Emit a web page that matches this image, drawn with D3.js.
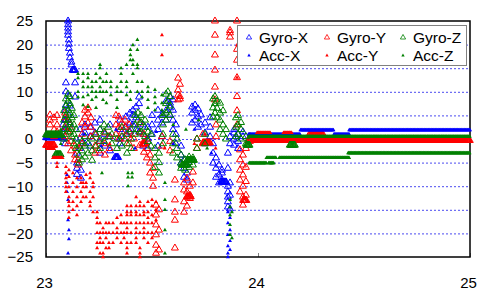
<!DOCTYPE html>
<html lang="en">
<head>
<meta charset="UTF-8">
<title>Gyro / Acc</title>
<script src="https://d3js.org/d3.v7.min.js"></script>
<style>
  body { margin: 0; background: #fff; }
  svg { display: block; font-family: "Liberation Sans", Arial, sans-serif; }
</style>
</head>
<body>
<svg id="chart" width="486" height="302"></svg>
<script>
const xTicks = [23, 24, 25];
const yTicks = [-25, -20, -15, -10, -5, 0, 5, 10, 15, 20, 25];
const seriesNames = ["Gyro-X", "Gyro-Y", "Gyro-Z", "Acc-X", "Acc-Y", "Acc-Z"];
const runStep = 0.003; // sample spacing inside flat runs

// columns: [time, value, value, ...]   runs: [from, to, value]
const gyroXCols = [
  [23.080, 0, 1.5, 3], [23.090, 6, 4, 2, -1], [23.094, 11.9, 10, 7.2, 4, 2],
  [23.104, 25, 24.2, 23.5, 22.7, 22], [23.108, 21, 20.1, 19.2, 9, 5], [23.113, 18.2, 17.2, 7, 3],
  [23.120, 16.3, 15.7], [23.137, 11.9, 8.9], [23.146, -3, -5.1, -6.2, -7.5],
  [23.160, -2, 0, 2], [23.165, -6.6, -8.3], [23.184, -1, 1.3, 3], [23.208, 0.5, 2.5, -1.5],
  [23.231, 1.3, 3.4], [23.255, 4, 2, -0.5, -3], [23.278, 1, -1.5], [23.302, 3, 0.5, -2.5],
  [23.349, 0, 2, 4, -1], [23.377, 2.5, 4.7, 1], [23.396, 3.4, 5.5, 1.5], [23.410, 5.1, 6.1, 3],
  [23.425, 6.8, 4.5, 2], [23.439, 8.9, 7.5, 1.5], [23.458, 1, 3, -1.5], [23.481, 0, 2.5, -2],
  [23.500, 3, 5, 1], [23.528, 4, 6.1, 2, -1.5], [23.547, 5.1, 3.4, 0.5], [23.566, 6, 8, 4],
  [23.585, 8.9, 7.6, 6.6, 5.1], [23.599, 8.3, 6.1, 4, 2], [23.613, 3, 1, -1],
  [23.637, -1.5, -3.4, -5.1], [23.651, -6.2, -8.1, -4.4], [23.665, -7.2, -8.7, -5.5],
  [23.689, 3.4, 5.5, 6.8], [23.703, 4, 6.1, 7.2], [23.717, 2.5, 4.7, 6.4], [23.731, 3, 5.1],
  [23.750, 1.3, 3.4, -1], [23.774, 0.5, 2.5, 4.5], [23.788, -1, -3, -5.1], [23.802, -4, -6.2, -8.1],
  [23.816, -5.5, -7.6, -9.3], [23.830, -6.6, -8.7, -7.2],
  [23.858, -10, -11.2, -12.3, -13.3, -14.4, -6.2, -3], [23.868, -11.9, -14.8, -9.3, -1, 0.5],
  [23.887, 0, 1.3, -1.3, 2], [23.906, 1, -0.5, -2], [23.929, 0.5, 1.5]
];
const gyroXRuns = [[23.0, 23.072, 0.3], [23.125, 23.137, 14.6], [23.325, 23.34, -3.9], [23.826, 23.85, -9.1]];

const gyroYCols = [
  [23.019, 3, 5.1, 4], [23.038, 4.5, 2, 0.5], [23.052, 5, 3, 1.5],
  [23.090, 0.5, 2.5, 4.5, 5.5], [23.104, 4, 1.5, -1], [23.118, 2, -0.5, -2.5],
  [23.137, -1.5, -3.4, -4.4], [23.151, -2, -4.5, -5.5], [23.170, -1, 1, 3.4],
  [23.184, 2.5, 4.7, 6.1], [23.198, 3.4, 5.5, 6.6], [23.212, 2.5, 4.5, 0.5],
  [23.231, 1, -1.5, -3], [23.250, -0.5, -2.5], [23.278, 1.3, -1, -3.4], [23.300, -2, 0.5],
  [23.330, 1, 3, 5], [23.344, 2.5, 4.7, 0], [23.358, 1.5, 3.4], [23.373, 0, 2.5, 4],
  [23.392, -1, 1.5, 3], [23.415, 0, -2], [23.443, 1.3, 3.4, -1.3], [23.462, -1, 1, -2.8],
  [23.476, 0, -2, -4], [23.491, -3.4, -5.1, -7.2], [23.505, -6.2, -8.3, -10],
  [23.519, -14, -16.1, -18.2, -20.3, -22.5, -24.2], [23.533, -15, -19.3, -23.5],
  [23.547, -1.5, 0.5], [23.585, -0.5, -2.5], [23.608, -8.7, -12.9, -15.5, -17.2, -23.1],
  [23.623, 12.9, 10.4, 9.3, 8.3], [23.632, 11.6, 9, 8.5],
  [23.651, -9.3, -10.8, -13.3, -15.5], [23.665, -8.3, -11.2, -12.3, -14.2], [23.679, -10, -11.9, -12.6],
  [23.693, -7, -9.3], [23.712, -2, 0], [23.740, 1, -1],
  [23.797, 25, 22, 17.8, 14.6, 11, 8.3], [23.802, 3, 0.5], [23.868, 22.5, 23, 21.6],
  [23.901, 25, 19, 16.7, 13, 9, 6, 3], [23.915, -2.3, -4.4, -6.6, -8.7, -11.2],
  [23.929, -3.4, -5.5, -7.6, -10, -12.3, -14], [23.943, -2, -6, -9, -11.9], [23.962, -0.5, 0.5]
];
const gyroYRuns = [[23.0, 23.04, -1.3], [23.455, 23.47, -1], [23.665, 23.683, -12.2], [23.74, 23.775, -0.8],
  [23.93, 23.945, -13], [23.955, 25.0, -0.3], [24.24, 24.31, 0.8]];

const gyroZCols = [
  [23.085, 0, 2, 4, 6], [23.094, 1, 3, 5, 7, 8.5], [23.104, 2, 4, 6, 8, 9.5], [23.113, 1.5, 3.5, 5.5, 7.5, 9],
  [23.122, 0.5, 2.5, 4.5, 6.5], [23.132, -1, 1, 3, 5], [23.142, -2, 0, 2], [23.156, -1.5, -3.4, -5.1],
  [23.170, -0.5, -2.5, -4.4], [23.184, 0.5, -1.5, -3.8], [23.198, -1, -3], [23.217, 0, -2.5, -4.5],
  [23.236, 1, -1.5], [23.255, 2, 0, -2], [23.274, 1.5, 3, -0.5], [23.293, 0.5, 2.5], [23.311, -1, 1],
  [23.335, 0, -2], [23.358, -1.5, 0.5, 2.5], [23.382, 1, -1, -3], [23.401, 0, 2, -2],
  [23.420, 1, 3, 5], [23.434, 2, 4, 5.5], [23.448, 1.5, 3.5, 5], [23.467, 0.5, 2.5, 4],
  [23.481, -0.5, 1.5], [23.495, -1.5, 1], [23.514, -2, -4, -6], [23.533, -3, -5, -7.2],
  [23.552, -1, 1, 3, 5], [23.566, 5.5, 7.5, 9.5, 4], [23.575, 6, 8, 10], [23.585, 5, 7, 9],
  [23.599, -3, -1, 1], [23.618, -4, -2, 0], [23.637, -3.4, -5.1, -6.2], [23.656, -4.4, -5.5, -6.6],
  [23.675, -3.8, -5, -6], [23.693, -4, -5.5], [23.712, -2, 0], [23.750, 1, -1],
  [23.788, 4.7, 6.6, 8.5], [23.797, 5.5, 7.5, 9], [23.807, 4.5, 6.5, 8], [23.821, 2, 4, 5.5, 7.6],
  [23.835, 1, 3, 6], [23.849, 0, 2], [23.896, 0.5, 2.5, 4.5], [23.906, 1, 3, 5], [23.920, 0, 2, 3.5],
  [23.943, -1, 0.5]
];
const gyroZRuns = [[23.0, 23.072, 0.9], [23.045, 23.07, -3.3], [23.64, 23.665, -5.5], [23.665, 23.70, -4.5],
  [23.945, 23.96, -1.3], [24.15, 24.175, -1.3]];

const accXCols = [
  [23.104, 25], [23.099, -7.6, -9.3, -11.2], [23.104, -12.9, -17.2, -24.2], [23.108, -19.3, -21.2],
  [23.180, 1], [23.26, -1.5], [23.33, 2], [23.42, -2], [23.52, 1.5], [23.6, -1], [23.7, 2], [23.78, -3],
  [23.858, -15.5, -17.8, -20.3, -22.7, -24.2, -25], [23.868, -16.7, -19.3, -21.6, -23.5]
];
const accXRuns = [[23.955, 24.2, 1.0], [24.2, 24.358, 1.9], [24.358, 24.43, 1.0], [24.43, 25.0, 1.9]];

const accYCols = [
  [23.052, -5.1, -5.9], [23.094, -5.9, -7.2, -8.3, -9.3, -10.2, -11.2],
  [23.108, -6.6, -8, -10.2, -12.3, -13.3, -14.2, -15.5, -16.7],
  [23.127, -7.2, -9.3, -11.2, -13.3, -15], [23.146, -8.3, -10.2, -12.3, -14.2, -16.1],
  [23.165, -8.3, -9.3, -11.2, -13.3], [23.175, -9.3, -10.2, -12.3],
  [23.189, -7.6, -9.3, -10.2, -12.3], [23.208, -7.2, -8.3, -11.2, -13.3, -14.2], [23.222, -9.3, -10.2, -12.3, -15.5],
  [23.241, -15.5, -16.7, -17.8, -19.9, -22, -23.1], [23.255, -17.8, -19.9, -21, -22, -24.2],
  [23.269, -18.9, -19.9, -22, -24.2, -25], [23.283, -17.8, -19.9, -21, -23.1], [23.297, -17.8, -19.9, -22, -23.1],
  [23.316, -17.8, -19.9, -22], [23.335, -16.7, -18.9, -19.9, -21], [23.354, -16.1, -17.8, -19.9, -22],
  [23.368, -17.8, -19.9, -21], [23.382, -14.2, -15.5, -16.1, -17.8, -18.9, -19.9, -22, -23.1, -24.2],
  [23.401, -14.2, -15.5, -16.1, -17.8, -19.9, -22],
  [23.425, -12.3, -14.2, -15.5, -16.1, -17.8, -18.9, -19.9, -21, -22],
  [23.443, -13.3, -14.2, -16.1, -17.8, -19.9, -23.1, -24.2, -25],
  [23.462, -14.2, -15.5, -16.1, -17.8, -18.9, -19.9, -21], [23.481, -13.3, -15.5, -16.7, -17.8, -19.9, -22],
  [23.500, -12.9, -14.2, -16.1, -17.8, -19.9, -21], [23.519, -13.3, -15, -17.2],
  [23.3, -1], [23.4, 0.5], [23.56, -2], [23.7, -1], [23.75, 1], [23.8, -2],
  [23.547, 22, 17.8], [23.901, 19.9, 13]
];
const accYRuns = [[23.005, 23.04, -2.1], [23.033, 23.08, -4], [23.995, 24.06, 1.3], [24.12, 24.16, 1.3]];

const accZCols = [
  [23.07, 2, -1], [23.151, 13.8, 12.9, 10, 8.9], [23.175, 13.8, 12.1, 11, 8.9, 7.2],
  [23.198, 13.8, 12.9, 11, 9.3, 6.8], [23.217, 12.1, 11, 10, 8.3], [23.236, 13.8, 12.1, 10, 8.9, 6.6],
  [23.255, 15.7, 15, 12.9, 11, 10], [23.264, -7.2], [23.269, 12.1, 10, 8.3], [23.285, 13.8, 12.1, 10, 7.6],
  [23.306, 12.1, 11, 9.3], [23.335, 11, 10, 8.3, 6.6], [23.354, 15, 13.8, 12.1, 10],
  [23.380, 15.7, 12.1, 11, 9.3], [23.387, -7.2, -8.1, -10], [23.398, 18.9, 17.8, 16.7, 10, 8.3],
  [23.406, -7.2, -8.1], [23.410, 19.9, 16.7, 15.7, 13.8], [23.431, 21, 18.9, 15.7, 15, 12.1, 10],
  [23.453, 12.1, 10, 8.9], [23.481, 11, 10, 8.3, 6.6], [23.514, 10.4, 8.9, 7.6, 6.1],
  [23.547, 9.3, 7.6, 6.1, 5.1], [23.561, -9.3, -12.9, -15, -19.3, -24.2],
  [23.6, 3], [23.66, 2], [23.72, 4], [23.76, -2],
  [23.868, -12.9, -14.4, -16.1, -18.2, -20.3], [23.877, -15.5, -21]
];
const accZRuns = [[23.955, 25.0, 0.5], [23.958, 24.04, -5.1], [24.05, 24.075, -5.1], [24.04, 24.085, -4],
  [24.1, 24.43, -4], [24.425, 25.0, -3]];

const colors = ["#0000ff", "#ff0000", "#008000", "#0000ff", "#ff0000", "#008000"];

function expand(cols, runs) {
  const pts = [];
  cols.forEach(c => c.slice(1).forEach(v => pts.push([c[0], v])));
  runs.forEach(([t0, t1, v]) => {
    for (let t = t0; t <= t1 + 1e-9; t += runStep) pts.push([t, v]);
  });
  return pts;
}

const series = [
  expand(gyroXCols, gyroXRuns), expand(gyroYCols, gyroYRuns), expand(gyroZCols, gyroZRuns),
  expand(accXCols, accXRuns), expand(accYCols, accYRuns), expand(accZCols, accZRuns)
];

const svg = d3.select("#chart");
const x = d3.scaleLinear().domain([23, 25]).range([46, 470]);
const y = d3.scaleLinear().domain([-25, 25]).range([257, 21]);
const fmt = d3.format("d");

// grid
svg.append("g")
  .attr("transform", "translate(46,0)")
  .call(d3.axisLeft(y).tickValues(yTicks.slice(1, -1)).tickSize(-424).tickFormat(""))
  .call(g => g.select(".domain").remove())
  .selectAll("line")
  .attr("stroke", "#4b4bf0")
  .attr("stroke-dasharray", "2,2");

// axes labels
svg.append("g")
  .attr("transform", "translate(46,0)")
  .call(d3.axisLeft(y).tickValues(yTicks).tickFormat(fmt).tickSize(0).tickPadding(13))
  .call(g => g.select(".domain").remove())
  .selectAll("text")
  .attr("font-size", 15).attr("fill", "#000")
  .attr("font-family", "Liberation Sans, Arial, sans-serif");

svg.append("g")
  .attr("transform", "translate(0,257)")
  .call(d3.axisBottom(x).tickValues(xTicks).tickFormat(fmt).tickSizeInner(-4).tickSizeOuter(0).tickPadding(20))
  .call(g => g.select(".domain").remove())
  .call(g => g.selectAll("line").attr("stroke", "#808080"))
  .selectAll("text")
  .attr("font-size", 15).attr("fill", "#000").attr("dx", -2)
  .attr("font-family", "Liberation Sans, Arial, sans-serif");

// frame
svg.append("rect")
  .attr("x", 46).attr("y", 21).attr("width", 424).attr("height", 236)
  .attr("fill", "none").attr("stroke", "#000").attr("stroke-width", 1.5);

// legend box
const legend = svg.append("g");
legend.append("rect")
  .attr("x", 237.5).attr("y", 25.5).attr("width", 229).attr("height", 40)
  .attr("fill", "#fff").attr("stroke", "#808080");

const bigTri = d3.symbol(d3.symbolTriangle, 21);
const smallTri = d3.symbol(d3.symbolTriangle, 7);

series.forEach((pts, i) => {
  const hollow = i < 3;
  svg.append("g").selectAll("path")
    .data(pts)
    .join("path")
    .attr("transform", d => `translate(${x(d[0])},${y(d[1])})`)
    .attr("d", hollow ? bigTri : smallTri)
    .attr("fill", hollow ? "none" : colors[i])
    .attr("stroke", hollow ? colors[i] : "none")
    .attr("stroke-width", 1);
});

const legX = [249, 327, 403];
const legY = [37.5, 55.5];
seriesNames.forEach((name, i) => {
  const cx = legX[i % 3], cy = legY[Math.floor(i / 3)];
  const hollow = i < 3;
  legend.append("path")
    .attr("transform", `translate(${cx},${cy})`)
    .attr("d", hollow ? d3.symbol(d3.symbolTriangle, 12)() : d3.symbol(d3.symbolTriangle, 5)())
    .attr("fill", hollow ? "none" : colors[i])
    .attr("stroke", hollow ? colors[i] : "none")
    .attr("stroke-width", 0.8);
  legend.append("text")
    .attr("x", cx + 10).attr("y", cy + 5.5)
    .attr("font-size", 15.5)
    .text(name);
});
legend.raise();
</script>
</body>
</html>
